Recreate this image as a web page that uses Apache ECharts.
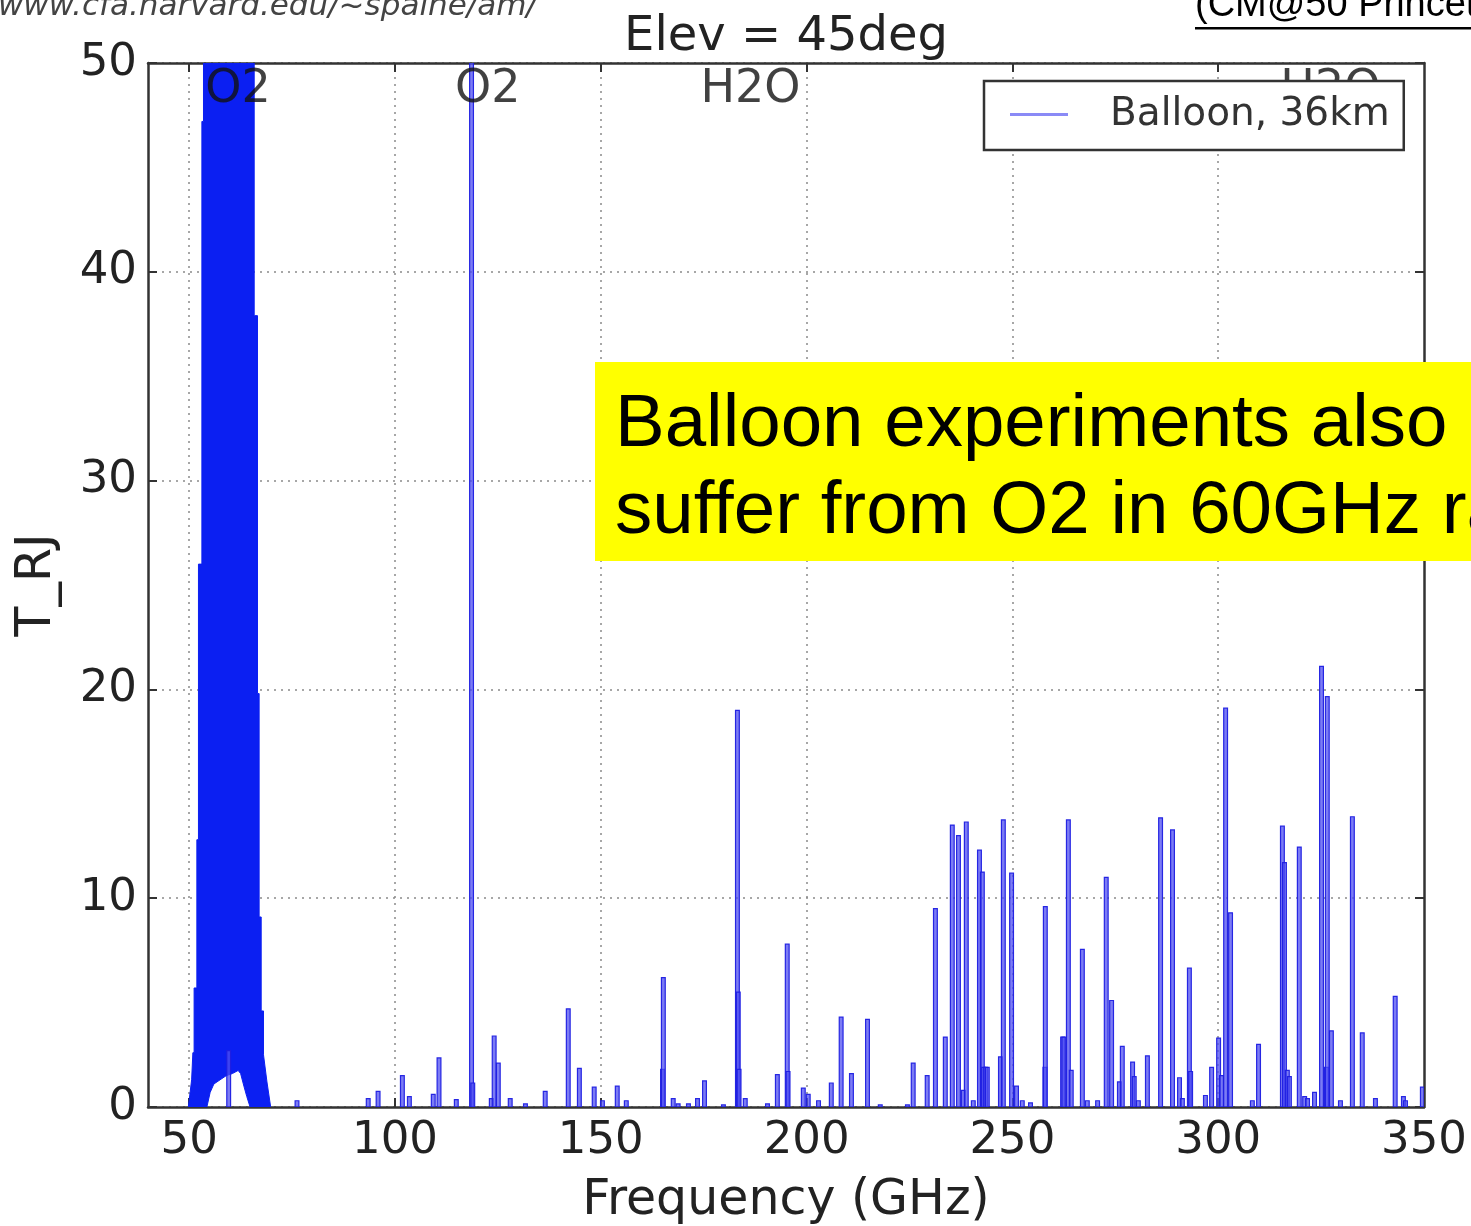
<!DOCTYPE html>
<html>
<head>
<meta charset="utf-8">
<script src="https://cdn.jsdelivr.net/npm/echarts@6/dist/echarts.min.js"></script>
<style>
  html, body { margin: 0; padding: 0; background: #ffffff; }
  #chart { width: 1471px; height: 1226px; }
</style>
</head>
<body>
<div id="chart"></div>
<script>
// ---------- data ----------
// Narrow spectral lines: frequency (GHz) and peak T_RJ
const lineFreq = [
  59.6, 76.2, 93.5, 95.9, 101.8, 103.5, 109.3, 110.7, 114.9, 118.6, 118.9,
  123.4, 124.1, 125.1, 128.0, 131.7, 136.5, 142.1, 144.8, 148.4, 150.4,
  154.0, 156.2, 165.0, 165.2, 167.6, 168.8, 171.3, 173.5, 175.2, 179.8,
  183.2, 183.4, 183.6, 185.1, 190.5, 192.9, 195.3, 195.5, 199.2, 200.4,
  202.9, 206.0, 208.4, 210.9, 214.8, 217.9, 224.5, 225.9, 229.3, 231.3,
  233.7, 235.4, 236.9, 238.1, 238.8, 240.5, 242.0, 242.7, 243.0, 243.5,
  243.9, 247.1, 247.8, 249.8, 251.0, 252.4, 254.4, 257.9, 258.0, 262.2,
  262.5, 263.6, 264.3, 267.0, 268.2, 270.7, 272.8, 274.1, 276.0, 276.7,
  279.2, 279.6, 280.6, 282.8, 286.0, 288.9, 290.6, 291.3, 293.0, 293.3,
  296.9, 298.4, 300.1, 300.8, 301.8, 303.0, 308.3, 309.8, 315.6, 316.1,
  316.8, 317.3, 319.7, 321.0, 321.7, 323.4, 325.1, 326.3, 326.5, 327.5,
  329.7, 332.6, 335.0, 338.2, 343.0, 345.0, 345.5, 349.6
];
const lineTemp = [
  2.7, 0.3, 0.4, 0.75, 1.5, 0.5, 0.6, 2.35, 0.35, 60, 1.15,
  0.4, 3.4, 2.1, 0.4, 0.15, 0.75, 4.7, 1.85, 0.95, 0.3,
  1.0, 0.3, 1.8, 6.2, 0.4, 0.15, 0.15, 0.4, 1.25, 0.1,
  19.0, 5.5, 1.8, 0.4, 0.15, 1.55, 7.8, 1.7, 0.9, 0.6,
  0.3, 1.15, 4.3, 1.6, 4.2, 0.1, 0.1, 2.1, 1.5, 9.5,
  3.35, 13.5, 13.0, 0.8, 13.65, 0.3, 12.3, 11.25, 1.9, 1.9,
  1.9, 2.4, 13.75, 11.2, 1.0, 0.3, 0.2, 1.9, 9.6, 3.35,
  3.35, 13.75, 1.75, 7.55, 0.3, 0.3, 11.0, 5.1, 1.2, 2.9,
  2.15, 1.45, 0.3, 2.45, 13.85, 13.27, 1.4, 0.4, 6.65, 1.7,
  0.55, 1.9, 3.3, 1.5, 19.1, 9.3, 0.3, 3.0, 13.45, 11.7,
  1.75, 1.45, 12.45, 0.5, 0.4, 0.7, 21.1, 1.9, 19.65, 3.65,
  0.3, 13.9, 3.55, 0.4, 5.3, 0.5, 0.3, 0.95
];
// 60 GHz O2 complex: outer envelope (left edge up, right edge down)
const bandOuterFreq = [49.8, 50.6, 50.9, 51.2, 51.2, 51.87, 51.87, 52.26, 52.26, 53.09, 53.09, 53.48, 53.48,
                       65.8, 65.8, 66.6, 66.6, 67.0, 67.0, 67.5, 67.5, 68.06, 68.06, 68.9, 69.8];
const bandOuterTemp = [0, 1.3, 2.6, 2.6, 5.7, 5.7, 12.8, 12.8, 26.0, 26.0, 47.2, 47.2, 60,
                       60, 37.9, 37.9, 19.8, 19.8, 9.1, 9.1, 4.6, 4.6, 2.5, 1.2, 0];
// white gap under the band (right to left)
const holeFreq = [64.8, 64.0, 63.3, 62.5, 61.9, 60.5, 59.0, 57.5, 56.0, 55.1, 54.3];
const holeTemp = [0, 0.5, 1.0, 1.6, 1.75, 1.6, 1.5, 1.3, 1.1, 0.7, 0];
// line-group annotations
const annoFreq = [53.9, 114.6, 174.2, 315.1];
const annoTemp = [48.7, 48.7, 48.7, 48.7];
const annoText = ['O2', 'O2', 'H2O', 'H2O'];
// ticks
const xTickLabels = [50, 100, 150, 200, 250, 300, 350];
const xGridTicks = [50, 100, 150, 200, 250, 300];
const yTickLabels = [0, 10, 20, 30, 40, 50];

const seriesName = 'Balloon, 36km';
const FONT = 'DejaVu Sans';

const chart = echarts.init(document.getElementById('chart'), null, { renderer: 'canvas' });

const spikeData = lineFreq.map((f, i) => [f, lineTemp[i]]);
const annoData = annoFreq.map((f, i) => ({ value: [f, annoTemp[i]], name: annoText[i] }));

const axisLineStyle = { color: '#333', width: 2.5 };
const gridLineStyle = { color: '#8a8a8a', width: 1.5, type: [2, 5] };

const option = {
  backgroundColor: '#ffffff',
  animation: false,
  grid: { left: 148, right: 47, top: 63, bottom: 119, containLabel: false, outerBoundsMode: 'none' },
  legend: {
    data: [{ name: seriesName, icon: 'rect' }],
    left: 984, top: 81,
    orient: 'vertical',
    itemWidth: 58, itemHeight: 3,
    padding: [14, 14, 16, 26],
    backgroundColor: '#ffffff',
    borderColor: '#333', borderWidth: 2.5,
    borderRadius: 0,
    itemStyle: { color: 'rgba(60,60,240,0.6)' },
    textStyle: { fontFamily: FONT, fontSize: 39, color: '#333', padding: [0, 0, 0, 37] },
    z: 10
  },
  xAxis: [
    {
      type: 'value', min: 40, max: 350, position: 'bottom',
      axisLine: { show: true, onZero: false, lineStyle: axisLineStyle },
      axisTick: { show: true, inside: true, length: 9, lineStyle: { color: '#333', width: 2 }, customValues: xGridTicks },
      axisLabel: { customValues: xTickLabels, fontFamily: FONT, fontSize: 45, color: '#222', margin: 12, showMaxLabel: true },
      splitLine: { show: true, lineStyle: gridLineStyle },
      name: 'Frequency (GHz)', nameLocation: 'middle', nameGap: 70,
      nameTextStyle: { fontFamily: FONT, fontSize: 49, color: '#222' }
    },
    {
      type: 'value', min: 40, max: 350, position: 'top',
      axisLine: { show: true, onZero: false, lineStyle: axisLineStyle },
      axisTick: { show: true, inside: true, length: 9, lineStyle: { color: '#333', width: 2 }, customValues: xGridTicks },
      axisLabel: { show: false },
      splitLine: { show: false }
    }
  ],
  yAxis: [
    {
      type: 'value', min: 0, max: 50, interval: 10, position: 'left',
      axisLine: { show: true, onZero: false, lineStyle: axisLineStyle },
      axisTick: { show: true, inside: true, length: 9, lineStyle: { color: '#333', width: 2 } },
      axisLabel: { customValues: yTickLabels, fontFamily: FONT, fontSize: 45, color: '#222', margin: 11 },
      splitLine: { show: true, lineStyle: gridLineStyle },
      name: 'T_RJ', nameLocation: 'middle', nameGap: 86, nameRotate: 90,
      nameTextStyle: { fontFamily: FONT, fontSize: 49, color: '#222' }
    },
    {
      type: 'value', min: 0, max: 50, interval: 10, position: 'right',
      axisLine: { show: true, onZero: false, lineStyle: axisLineStyle },
      axisTick: { show: true, inside: true, length: 9, lineStyle: { color: '#333', width: 2 } },
      axisLabel: { show: false },
      splitLine: { show: false }
    }
  ],
  series: [
    {
      name: 'O2 band', type: 'custom', xAxisIndex: 0, yAxisIndex: 0, clip: true, z: 3,
      data: [[60, 0]],
      renderItem: function (params, api) {
        const pts = [];
        for (let i = 0; i < bandOuterFreq.length; i++) pts.push(api.coord([bandOuterFreq[i], bandOuterTemp[i]]));
        for (let i = 0; i < holeFreq.length; i++) pts.push(api.coord([holeFreq[i], holeTemp[i]]));
        return { type: 'polygon', shape: { points: pts }, style: { fill: '#0b1ff2', stroke: '#0b1ff2', lineWidth: 1 } };
      }
    },
    {
      name: seriesName, type: 'custom', xAxisIndex: 0, yAxisIndex: 0, clip: true, z: 4,
      itemStyle: { color: 'rgba(60,60,240,0.6)' },
      data: spikeData,
      renderItem: function (params, api) {
        const p0 = api.coord([api.value(0), 0]);
        const p1 = api.coord([api.value(0), api.value(1)]);
        return {
          type: 'rect',
          shape: { x: p0[0] - 1.9, y: p1[1], width: 3.8, height: p0[1] - p1[1] },
          style: { fill: 'rgba(80,80,240,0.75)', stroke: 'rgba(30,30,225,0.95)', lineWidth: 1.2 }
        };
      }
    },
    {
      name: 'labels', type: 'scatter', xAxisIndex: 0, yAxisIndex: 0, symbolSize: 0, z: 6,
      silent: true,
      data: annoData,
      label: {
        show: true, position: 'right', distance: 0,
        formatter: p => p.name,
        fontFamily: FONT, fontSize: 46, color: '#111'
      }
    }
  ],
  graphic: [
    {
      type: 'text', x: 786, y: 14, z: 20,
      style: { text: 'Elev = 45deg', fontFamily: FONT, fontSize: 48, fill: '#222', align: 'center', verticalAlign: 'top' }
    },
    {
      type: 'text', x: -2, y: 22, z: 20,
      style: { text: 'www.cfa.harvard.edu/~spaine/am/', fontFamily: FONT, fontStyle: 'italic', fontSize: 31, fill: '#444', verticalAlign: 'bottom' }
    },
    {
      type: 'text', x: 1195, y: 25, z: 20,
      style: { text: '(CM@50 Princeton)', fontFamily: 'Liberation Sans', fontSize: 38, fill: '#000', verticalAlign: 'bottom' }
    },
    {
      type: 'rect', z: 20,
      shape: { x: 1195, y: 27, width: 300, height: 2.5 },
      style: { fill: '#000' }
    },
    {
      type: 'rect', z: 30,
      shape: { x: 595, y: 362, width: 900, height: 199 },
      style: { fill: '#ffff00' }
    },
    {
      type: 'text', x: 615, y: 388, z: 31,
      style: { text: 'Balloon experiments also', fontFamily: 'Liberation Sans', fontSize: 74.5, fill: '#000', verticalAlign: 'top' }
    },
    {
      type: 'text', x: 615, y: 475, z: 31,
      style: { text: 'suffer from O2 in 60GHz range', fontFamily: 'Liberation Sans', fontSize: 74.5, fill: '#000', verticalAlign: 'top' }
    }
  ]
};
chart.setOption(option);
</script>
</body>
</html>
